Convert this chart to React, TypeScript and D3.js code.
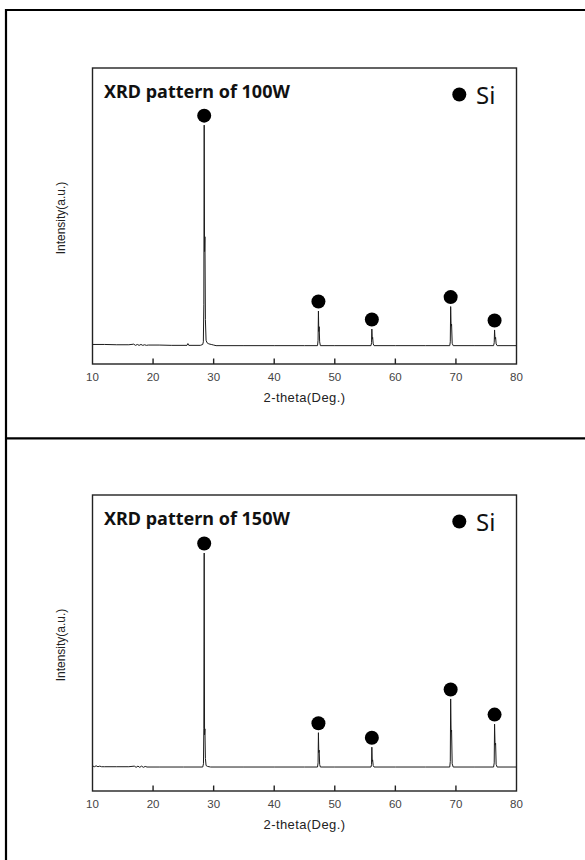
import React from "react";
import * as d3 from "d3";

// 2θ axis ticks
const xTicks = [10, 20, 30, 40, 50, 60, 70, 80];

// Si reflections (2θ, deg)
const siPeaks = [28.44, 47.3, 56.12, 69.13, 76.38];

// 100 W pattern: 2θ (deg) and intensity (a.u.)
const twoTheta100 = [
  10, 12, 14, 16, 16.8, 17.1, 17.4, 17.7, 18.0, 18.3, 18.6, 18.9, 19.2, 21, 23, 25.6, 25.75, 25.9,
  27.8, 28.2, 28.3, 28.38, 28.44, 28.5, 28.56, 28.64, 28.75, 28.9, 29.2, 29.6, 30.0, 30.4,
  35, 40, 45, 47.15, 47.24, 47.3, 47.36, 47.42, 47.5, 47.62,
  50, 55.98, 56.07, 56.12, 56.18, 56.25, 56.34, 56.48,
  60, 65, 68.98, 69.07, 69.13, 69.2, 69.28, 69.38, 69.55,
  73, 76.22, 76.32, 76.38, 76.46, 76.55, 76.64, 76.8, 80,
];
const intensity100 = [
  66, 66, 65, 65, 67, 63, 66, 63, 66, 63, 65, 63, 64, 64, 63, 63, 69, 63,
  63, 66, 75, 200, 807, 380, 430, 150, 80, 72, 68, 66, 64, 62,
  62, 62, 62, 62, 80, 179, 110, 126, 75, 62,
  62, 62, 72, 118, 84, 90, 68, 62,
  62, 62, 62, 75, 194, 128, 135, 70, 62,
  62, 62, 72, 115, 84, 90, 68, 62, 62,
];
const markers100 = [807, 179, 118, 194, 115];

// 150 W pattern: 2θ (deg) and intensity (a.u.)
const twoTheta150 = [
  10, 10.3, 10.6, 10.9, 11.2, 11.5, 12, 14, 16, 16.9, 17.2, 17.5, 17.8, 18.1, 18.4, 18.7, 19, 21, 25,
  28.2, 28.32, 28.38, 28.44, 28.5, 28.56, 28.64, 28.75, 29.0, 29.5,
  35, 40, 45, 47.15, 47.24, 47.3, 47.36, 47.42, 47.5, 47.62,
  50, 55.98, 56.07, 56.12, 56.18, 56.25, 56.34, 56.48,
  60, 65, 68.98, 69.07, 69.13, 69.2, 69.28, 69.38, 69.55,
  73, 76.22, 76.32, 76.38, 76.46, 76.55, 76.64, 76.8, 80,
];
const intensity150 = [
  85, 82, 85, 82, 84, 82, 82, 82, 82, 84, 80, 84, 80, 84, 80, 83, 81, 81, 81,
  81, 92, 210, 804, 190, 210, 110, 86, 83, 81,
  81, 81, 81, 81, 95, 197, 130, 138, 90, 81,
  81, 81, 90, 148, 100, 105, 86, 81,
  81, 81, 81, 100, 311, 200, 206, 92, 81,
  81, 81, 95, 226, 155, 162, 90, 81, 81,
];
const markers150 = [804, 197, 148, 311, 226];

type PanelProps = {
  top: number;
  title: string;
  xs: number[];
  ys: number[];
  markers: number[];
};

const BOX_LEFT = 92.5;
const BOX_RIGHT = 516.5;

function Panel({ top, title, xs, ys, markers }: PanelProps) {
  const boxTop = top + 58;
  const boxBottom = top + 354;
  const x = d3.scaleLinear().domain([10, 80]).range([BOX_LEFT, BOX_RIGHT]);
  const y = d3.scaleLinear().domain([0, 1000]).range([boxBottom, boxBottom - 296]);
  const pts: [number, number][] = xs.map((v, i) => [v, ys[i]]);
  const line = d3
    .line<[number, number]>()
    .x((d) => x(d[0]))
    .y((d) => y(d[1]));
  const axisFont = "'Liberation Sans', Arial, sans-serif";
  const titleFont = "'Noto Sans', 'Open Sans', sans-serif";
  return (
    <g>
      <path d={line(pts) || ""} fill="none" stroke="#1c1c1c" strokeWidth={1} />
      {siPeaks.map((p, i) => (
        <circle key={p} cx={x(p)} cy={y(markers[i]) - 9.5} r={7} fill="#000" />
      ))}
      {xTicks.slice(1, -1).map((t) => (
        <line key={t} x1={x(t)} x2={x(t)} y1={boxBottom} y2={boxBottom - 5.5} stroke="#222" strokeWidth={1.4} />
      ))}
      <rect
        x={BOX_LEFT}
        y={boxTop}
        width={BOX_RIGHT - BOX_LEFT}
        height={boxBottom - boxTop}
        fill="none"
        stroke="#222"
        strokeWidth={1.4}
      />
      {xTicks.map((t) => (
        <text
          key={t}
          x={x(t)}
          y={boxBottom + 17}
          textAnchor="middle"
          fontFamily={axisFont}
          fontSize={11.5}
          fill="#444"
        >
          {t}
        </text>
      ))}
      <text
        x={(BOX_LEFT + BOX_RIGHT) / 2}
        y={boxBottom + 38}
        textAnchor="middle"
        fontFamily={axisFont}
        fontSize={13}
        letterSpacing={0.4}
        fill="#222"
      >
        2-theta(Deg.)
      </text>
      <text
        transform={`translate(${65},${(boxTop + boxBottom) / 2 + 2}) rotate(-90)`}
        textAnchor="middle"
        fontFamily={axisFont}
        fontSize={12}
        fill="#222"
      >
        Intensity(a.u.)
      </text>
      <text x={104} y={top + 88} fontFamily={titleFont} fontWeight={700} fontSize={18} fill="#111">
        {title}
      </text>
      <circle cx={459.3} cy={top + 84.5} r={7} fill="#000" />
      <text x={476} y={top + 94} fontFamily={titleFont} fontSize={24} fill="#111">
        Si
      </text>
    </g>
  );
}

export default function App() {
  return (
    <svg
      width={585}
      height={860}
      style={{ position: "absolute", left: 0, top: 0, background: "#fff" }}
    >
      <rect x={0} y={0} width={585} height={860} fill="#fff" />
      {/* outer frame */}
      <line x1={6} x2={6} y1={9} y2={860} stroke="#000" strokeWidth={2.2} />
      <line x1={5} x2={585} y1={10} y2={10} stroke="#000" strokeWidth={2.2} />
      <line x1={5} x2={585} y1={438.3} y2={438.3} stroke="#000" strokeWidth={2.2} />
      <Panel top={10} title="XRD pattern of 100W" xs={twoTheta100} ys={intensity100} markers={markers100} />
      <Panel top={437} title="XRD pattern of 150W" xs={twoTheta150} ys={intensity150} markers={markers150} />
    </svg>
  );
}
